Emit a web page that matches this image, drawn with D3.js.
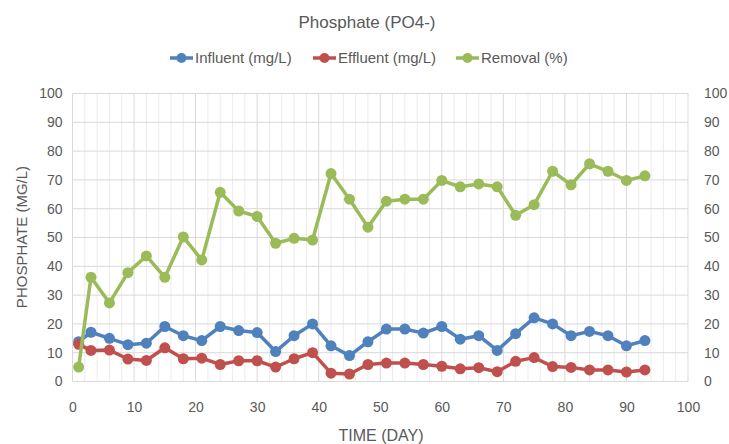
<!DOCTYPE html>
<html>
<head>
<meta charset="utf-8">
<script src="https://cdn.jsdelivr.net/npm/d3@7"></script>
<style>
  body { margin: 0; background: #fff; }
  text { font-family: "Liberation Sans", "Noto Sans", sans-serif; fill: #595959; }
</style>
</head>
<body>
<svg id="chart" width="729" height="444"></svg>
<script>
// sampling days
const days = [1, 3, 6, 9, 12, 15, 18, 21, 24, 27, 30, 33, 36, 39, 42, 45,
              48, 51, 54, 57, 60, 63, 66, 69, 72, 75, 78, 81, 84, 87, 90, 93];

// phosphate in (mg/L)
const influent = [13.8, 17.1, 15.0, 12.8, 13.3, 19.1, 15.9, 14.2, 19.1, 17.7, 17.0, 10.4, 15.9, 20.0, 12.4, 9.0,
                  13.8, 18.2, 18.2, 16.8, 19.1, 14.7, 15.9, 10.8, 16.6, 22.1, 20.0, 15.9, 17.4, 15.9, 12.4, 14.2];

// phosphate out (mg/L)
const effluent = [12.9, 10.8, 10.9, 7.8, 7.3, 11.7, 7.9, 8.1, 5.9, 7.2, 7.2, 5.0, 7.9, 10.0, 2.9, 2.6,
                  5.9, 6.4, 6.4, 5.9, 5.3, 4.4, 4.8, 3.4, 7.0, 8.3, 5.2, 4.9, 4.0, 4.0, 3.3, 4.0];

// removal efficiency (%)
const removal = [5.0, 36.2, 27.3, 37.8, 43.6, 36.2, 50.2, 42.2, 65.7, 59.2, 57.3, 48.0, 49.7, 49.1, 72.2, 63.3,
                 53.6, 62.6, 63.3, 63.3, 69.8, 67.6, 68.6, 67.6, 57.7, 61.4, 73.0, 68.3, 75.6, 73.0, 69.8, 71.4];

const xTicks = [0, 10, 20, 30, 40, 50, 60, 70, 80, 90, 100];
const yTicks = [0, 10, 20, 30, 40, 50, 60, 70, 80, 90, 100];

const svg = d3.select("#chart");

const plotLeft = 72.5, plotRight = 688, plotTop = 93.5, plotBottom = 381.5;

const x = d3.scaleLinear().domain([0, 100]).range([plotLeft, plotRight]);
const y = d3.scaleLinear().domain([0, 100]).range([plotBottom, plotTop]);

// minor vertical gridlines every 2 days
svg.append("g")
    .selectAll("line")
    .data(d3.range(0, 101, 2).filter(d => d % 10 !== 0))
    .enter()
    .append("line")
    .attr("x1", d => x(d)).attr("x2", d => x(d))
    .attr("y1", plotTop).attr("y2", plotBottom)
    .attr("stroke", "#ececec")
    .attr("stroke-width", 1);

// major gridlines
svg.append("g")
    .selectAll("line")
    .data(xTicks)
    .enter()
    .append("line")
    .attr("x1", d => x(d)).attr("x2", d => x(d))
    .attr("y1", plotTop).attr("y2", plotBottom)
    .attr("stroke", "#d9d9d9")
    .attr("stroke-width", 1);

svg.append("g")
    .selectAll("line")
    .data(yTicks)
    .enter()
    .append("line")
    .attr("x1", plotLeft).attr("x2", plotRight)
    .attr("y1", d => y(d)).attr("y2", d => y(d))
    .attr("stroke", "#d9d9d9")
    .attr("stroke-width", 1);

// axes (labels only, Excel style)
const xAxis = svg.append("g")
    .attr("transform", "translate(0," + plotBottom + ")")
    .call(d3.axisBottom(x).tickValues(xTicks).tickSize(0).tickPadding(21));

const yLeft = svg.append("g")
    .attr("transform", "translate(" + plotLeft + ",0)")
    .call(d3.axisLeft(y).tickValues(yTicks).tickSize(0).tickPadding(10));

const yRight = svg.append("g")
    .attr("transform", "translate(" + plotRight + ",0)")
    .call(d3.axisRight(y).tickValues(yTicks).tickSize(0).tickPadding(16));

[xAxis, yLeft, yRight].forEach(a => {
    a.select(".domain").remove();
    a.selectAll("text")
        .style("font-family", "'Liberation Sans', sans-serif")
        .style("font-size", "14px")
        .attr("fill", "#595959");
});

// series
const series = [
    { name: "Influent (mg/L)", values: influent, color: "#4f81bd" },
    { name: "Effluent (mg/L)", values: effluent, color: "#c0504d" },
    { name: "Removal (%)", values: removal, color: "#9bbb59" }
];

const line = d3.line()
    .x(d => x(d[0]))
    .y(d => y(d[1]));

for (let s of series) {
    let pts = days.map((d, i) => [d, s.values[i]]);
    let g = svg.append("g");

    g.append("path")
        .datum(pts)
        .attr("d", line)
        .attr("fill", "none")
        .attr("stroke", s.color)
        .attr("stroke-width", 3.5)
        .attr("stroke-linejoin", "round");

    g.selectAll("circle")
        .data(pts)
        .enter()
        .append("circle")
        .attr("cx", d => x(d[0]))
        .attr("cy", d => y(d[1]))
        .attr("r", 5.5)
        .attr("fill", s.color);
}

// title
svg.append("text")
    .attr("x", 367)
    .attr("y", 28)
    .attr("text-anchor", "middle")
    .style("font-size", "17px")
    .text("Phosphate (PO4-)");

// legend
const legendX = [170, 313, 456];
series.forEach((s, i) => {
    let lg = svg.append("g").attr("transform", "translate(" + legendX[i] + ",58)");
    lg.append("line")
        .attr("x1", 0).attr("x2", 23)
        .attr("stroke", s.color)
        .attr("stroke-width", 3.5);
    lg.append("circle")
        .attr("cx", 11.5).attr("r", 5)
        .attr("fill", s.color);
    lg.append("text")
        .attr("x", 25)
        .attr("y", 5)
        .style("font-size", "15px")
        .text(s.name);
});

// axis titles
svg.append("text")
    .attr("transform", "translate(27,237) rotate(-90)")
    .attr("text-anchor", "middle")
    .style("font-size", "15px")
    .text("PHOSPHATE (MG/L)");

svg.append("text")
    .attr("x", 381)
    .attr("y", 441)
    .attr("text-anchor", "middle")
    .style("font-size", "16px")
    .text("TIME (DAY)");
</script>
</body>
</html>
